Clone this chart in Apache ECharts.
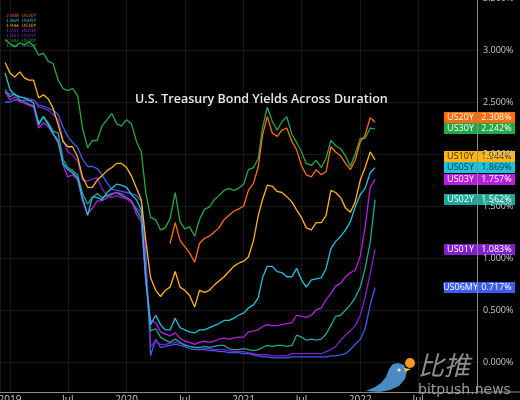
<!DOCTYPE html>
<html>
<head>
<meta charset="utf-8">
<title>U.S. Treasury Bond Yields Across Duration</title>
<script src="https://cdn.jsdelivr.net/npm/echarts@6.0.0/dist/echarts.min.js"></script>
<style>
html, body { margin: 0; padding: 0; background: #000; }
#chart { width: 520px; height: 400px; }
</style>
</head>
<body>
<div id="chart"></div>
<script>
// half-monthly readings (percent)
var dates = ['2018-12-17',
    '2019-01-01', '2019-01-16', '2019-02-01', '2019-02-16', '2019-03-01', '2019-03-16', '2019-04-01', '2019-04-16',
    '2019-05-01', '2019-05-16', '2019-06-01', '2019-06-16', '2019-07-01', '2019-07-16', '2019-08-01', '2019-08-16',
    '2019-09-01', '2019-09-16', '2019-10-01', '2019-10-16', '2019-11-01', '2019-11-16', '2019-12-01', '2019-12-16',
    '2020-01-01', '2020-01-16', '2020-02-01', '2020-02-16', '2020-03-01', '2020-03-16', '2020-04-01', '2020-04-16',
    '2020-05-01', '2020-05-16', '2020-06-01', '2020-06-16', '2020-07-01', '2020-07-16', '2020-08-01', '2020-08-16',
    '2020-09-01', '2020-09-16', '2020-10-01', '2020-10-16', '2020-11-01', '2020-11-16', '2020-12-01', '2020-12-16',
    '2021-01-01', '2021-01-16', '2021-02-01', '2021-02-16', '2021-03-01', '2021-03-16', '2021-04-01', '2021-04-16',
    '2021-05-01', '2021-05-16', '2021-06-01', '2021-06-16', '2021-07-01', '2021-07-16', '2021-08-01', '2021-08-16',
    '2021-09-01', '2021-09-16', '2021-10-01', '2021-10-16', '2021-11-01', '2021-11-16', '2021-12-01', '2021-12-16',
    '2022-01-01', '2022-01-16', '2022-02-01', '2022-02-16'];

var us30y = [3.10, 3.06, 3.03, 3.07, 3.05, 3.08, 3.04, 2.95, 2.97, 2.89,
    2.87, 2.71, 2.63, 2.61, 2.63, 2.56, 2.25, 2.06, 2.13, 2.13,
    2.27, 2.33, 2.39, 2.29, 2.27, 2.33, 2.29, 2.12, 2.02, 1.63,
    1.39, 1.37, 1.27, 1.29, 1.38, 1.63, 1.35, 1.28, 1.30, 1.21,
    1.37, 1.47, 1.49, 1.56, 1.60, 1.65, 1.67, 1.65, 1.67, 1.71,
    1.85, 1.87, 1.96, 2.25, 2.45, 2.31, 2.23, 2.31, 2.36, 2.19,
    2.11, 2.02, 1.91, 1.89, 1.94, 1.87, 1.96, 2.13, 2.08, 2.05,
    1.98, 1.88, 2.00, 2.15, 2.15, 2.25, 2.242];

var us20y = [null, null, null, null, null, null, null, null, null, null,
    null, null, null, null, null, null, null, null, null, null,
    null, null, null, null, null, null, null, null, null, null,
    null, null, null, null, 1.14, 1.34, 1.17, 1.11, 1.05, 0.96,
    1.14, 1.19, 1.21, 1.25, 1.29, 1.37, 1.41, 1.45, 1.47, 1.50,
    1.65, 1.72, 1.88, 2.18, 2.36, 2.20, 2.17, 2.23, 2.25, 2.12,
    2.04, 1.89, 1.80, 1.78, 1.85, 1.80, 1.83, 2.07, 2.02, 1.98,
    1.91, 1.85, 1.94, 2.12, 2.18, 2.35, 2.308];

var us10y = [2.88, 2.78, 2.74, 2.79, 2.73, 2.71, 2.71, 2.54, 2.57, 2.53,
    2.44, 2.28, 2.12, 2.07, 2.07, 1.97, 1.78, 1.68, 1.68, 1.75,
    1.79, 1.84, 1.87, 1.91, 1.91, 1.87, 1.79, 1.67, 1.56, 1.17,
    0.81, 0.69, 0.63, 0.69, 0.72, 0.87, 0.72, 0.69, 0.64, 0.53,
    0.69, 0.67, 0.69, 0.74, 0.78, 0.82, 0.87, 0.92, 0.95, 0.97,
    1.01, 1.17, 1.41, 1.56, 1.70, 1.69, 1.64, 1.63, 1.59, 1.54,
    1.46, 1.39, 1.29, 1.27, 1.34, 1.34, 1.41, 1.65, 1.63, 1.58,
    1.48, 1.44, 1.54, 1.75, 1.87, 2.02, 1.944];

var us05y = [2.78, 2.62, 2.57, 2.55, 2.54, 2.52, 2.49, 2.28, 2.36, 2.28,
    2.20, 2.11, 1.91, 1.85, 1.82, 1.77, 1.58, 1.41, 1.59, 1.58,
    1.56, 1.63, 1.67, 1.71, 1.70, 1.68, 1.61, 1.56, 1.46, 0.79,
    0.36, 0.45, 0.36, 0.31, 0.31, 0.42, 0.33, 0.31, 0.29, 0.28,
    0.31, 0.31, 0.33, 0.35, 0.37, 0.40, 0.40, 0.42, 0.45, 0.47,
    0.52, 0.55, 0.62, 0.81, 0.92, 0.92, 0.87, 0.86, 0.82, 0.82,
    0.90, 0.79, 0.72, 0.79, 0.80, 0.81, 0.90, 1.09, 1.16, 1.21,
    1.27, 1.35, 1.49, 1.61, 1.67, 1.82, 1.869];

var us03y = [2.60, 2.52, 2.55, 2.50, 2.49, 2.47, 2.45, 2.25, 2.30, 2.26,
    2.19, 2.14, 1.90, 1.78, 1.80, 1.75, 1.55, 1.42, 1.48, 1.55,
    1.55, 1.58, 1.61, 1.63, 1.62, 1.58, 1.55, 1.42, 1.35, 0.78,
    0.40, 0.38, 0.29, 0.27, 0.25, 0.28, 0.23, 0.20, 0.19, 0.17,
    0.19, 0.20, 0.19, 0.20, 0.22, 0.23, 0.22, 0.23, 0.24, 0.24,
    0.29, 0.30, 0.31, 0.34, 0.36, 0.35, 0.35, 0.36, 0.37, 0.38,
    0.45, 0.44, 0.43, 0.45, 0.50, 0.52, 0.60, 0.66, 0.73, 0.76,
    0.82, 0.86, 0.88, 1.02, 1.30, 1.68, 1.757];

var us02y = [2.62, 2.55, 2.58, 2.52, 2.50, 2.48, 2.46, 2.30, 2.36, 2.30,
    2.22, 2.20, 1.95, 1.87, 1.84, 1.80, 1.62, 1.52, 1.58, 1.62,
    1.58, 1.60, 1.62, 1.63, 1.60, 1.58, 1.55, 1.46, 1.38, 0.80,
    0.30, 0.32, 0.24, 0.21, 0.19, 0.22, 0.19, 0.16, 0.15, 0.14,
    0.14, 0.15, 0.14, 0.15, 0.16, 0.16, 0.13, 0.12, 0.12, 0.13,
    0.12, 0.11, 0.12, 0.14, 0.16, 0.15, 0.16, 0.16, 0.15, 0.16,
    0.26, 0.24, 0.21, 0.22, 0.21, 0.22, 0.27, 0.35, 0.44, 0.45,
    0.50, 0.55, 0.62, 0.72, 0.90, 1.15, 1.562];

var us01y = [2.58, 2.58, 2.57, 2.55, 2.54, 2.53, 2.52, 2.45, 2.44, 2.42,
    2.38, 2.33, 2.14, 2.02, 1.99, 1.93, 1.75, 1.74, 1.76, 1.77,
    1.67, 1.60, 1.58, 1.60, 1.58, 1.57, 1.53, 1.48, 1.44, 0.95,
    0.15, 0.20, 0.17, 0.17, 0.18, 0.19, 0.18, 0.17, 0.15, 0.14,
    0.14, 0.13, 0.13, 0.12, 0.12, 0.12, 0.11, 0.10, 0.10, 0.10,
    0.09, 0.08, 0.07, 0.07, 0.07, 0.06, 0.06, 0.06, 0.06, 0.08,
    0.08, 0.08, 0.08, 0.08, 0.08, 0.08, 0.10, 0.12, 0.15, 0.21,
    0.26, 0.30, 0.35, 0.45, 0.62, 0.85, 1.083];

var us06my = [2.50, 2.50, 2.52, 2.51, 2.52, 2.51, 2.52, 2.47, 2.46, 2.44,
    2.42, 2.38, 2.26, 2.17, 2.11, 2.06, 1.95, 1.88, 1.88, 1.86,
    1.80, 1.72, 1.66, 1.65, 1.64, 1.63, 1.62, 1.60, 1.55, 1.05,
    0.06, 0.22, 0.14, 0.15, 0.16, 0.17, 0.16, 0.15, 0.13, 0.12,
    0.12, 0.12, 0.11, 0.11, 0.10, 0.10, 0.09, 0.09, 0.09, 0.08,
    0.08, 0.07, 0.06, 0.05, 0.05, 0.04, 0.04, 0.04, 0.04, 0.05,
    0.05, 0.05, 0.05, 0.05, 0.05, 0.05, 0.05, 0.06, 0.06, 0.07,
    0.08, 0.12, 0.17, 0.22, 0.32, 0.55, 0.717];

var names = ['US06MY', 'US01Y', 'US02Y', 'US03Y', 'US05Y', 'US10Y', 'US30Y', 'US20Y'];
var values = [us06my, us01y, us02y, us03y, us05y, us10y, us30y, us20y];
// order of the tiny legend rows, top left
var legendOrder = ['US20Y', 'US05Y', 'US10Y', 'US03Y', 'US01Y', 'US30Y', 'US02Y'];

// styling
var colors = {
    US20Y: '#ff6d0a', US30Y: '#22a846', US10Y: '#ffb50f', US05Y: '#1fc2dc',
    US03Y: '#b61ee0', US02Y: '#1ba898', US01Y: '#7f22cc', US06MY: '#3c5cf2'
};
var boxText = {
    US20Y: '#ffffff', US30Y: '#ffffff', US10Y: '#3a2a00', US05Y: '#06323a',
    US03Y: '#ffffff', US02Y: '#ffffff', US01Y: '#ffffff', US06MY: '#ffffff'
};
var monthNames = ['Jan', 'Feb', 'Mar', 'Apr', 'May', 'Jun', 'Jul', 'Aug', 'Sep', 'Oct', 'Nov', 'Dec'];

var chart = echarts.init(document.getElementById('chart'));

var series = names.map(function (n, k) {
    return {
        name: n,
        type: 'line',
        showSymbol: false,
        lineStyle: { width: 1.3, color: colors[n] },
        itemStyle: { color: colors[n] },
        data: dates.map(function (d, i) { return [d, values[k][i]]; })
    };
});

chart.setOption({
    backgroundColor: '#000',
    animation: false,
    title: {
        text: 'U.S. Treasury Bond Yields Across Duration',
        left: 130, top: 88,
        textStyle: { color: '#e6e6e6', fontSize: 12.5, fontWeight: 600, fontFamily: 'Open Sans' }
    },
    grid: { left: 0, right: 43, top: -2, bottom: 8, outerBoundsMode: 'none', containLabel: false },
    xAxis: {
        type: 'time',
        min: '2018-12-01',
        max: '2023-01-01',
        splitNumber: 8,
        minInterval: 180 * 86400000,
        maxInterval: 185 * 86400000,
        axisLine: { onZero: false, lineStyle: { color: '#8a8a8a', width: 1 } },
        axisTick: { show: false },
        axisLabel: {
            color: '#c8c8c8', fontSize: 10, margin: 3, fontFamily: 'Open Sans',
            hideOverlap: false,
            formatter: function (v) {
                var d = new Date(v);
                return d.getMonth() === 0 ? String(d.getFullYear()) : monthNames[d.getMonth()];
            }
        },
        splitLine: { show: true, lineStyle: { color: '#181818', width: 1 } }
    },
    yAxis: {
        type: 'value',
        position: 'right',
        min: -0.288,
        max: 3.5,
        splitNumber: 7,
        axisLine: { show: true, lineStyle: { color: '#8a8a8a', width: 1 } },
        axisTick: { show: false },
        axisLabel: {
            color: '#c8c8c8', fontSize: 9, margin: 6, fontFamily: 'Open Sans',
            formatter: function (v) {
                if (Math.abs(v * 2 - Math.round(v * 2)) > 1e-6) return '';
                return v.toFixed(3) + '%';
            }
        },
        splitLine: { show: true, lineStyle: { color: '#181818', width: 1 } }
    },
    series: series
});

// price boxes on the right axis, stacked so they don't overlap
var axisX = 477;
var boxH = 11.5;
var lastOf = {};
var marks = names.map(function (n, k) {
    var v = values[k][values[k].length - 1];
    lastOf[n] = v;
    return { name: n, value: v, y: chart.convertToPixel({ yAxisIndex: 0 }, v) };
});
marks.sort(function (a, b) { return b.y - a.y; });
for (var i = 1; i < marks.length; i++) {
    if (marks[i].y > marks[i - 1].y - boxH) marks[i].y = marks[i - 1].y - boxH;
}
var elements = [];
marks.forEach(function (m) {
    elements.push({
        type: 'group',
        x: axisX - 33, y: Math.round(m.y - 5.5),
        children: [
            { type: 'rect', shape: { x: 0, y: 0, width: 71, height: 11 }, style: { fill: colors[m.name] } },
            { type: 'text', x: 16.5, y: 5.5, style: { text: m.name, fill: boxText[m.name], fontSize: 9, fontFamily: 'Open Sans', align: 'center', verticalAlign: 'middle' } },
            { type: 'text', x: 52.5, y: 5.5, style: { text: m.value.toFixed(3) + '%', fill: boxText[m.name], fontSize: 9, fontFamily: 'Open Sans', align: 'center', verticalAlign: 'middle' } }
        ]
    });
});

// tiny series readout rows, top left
legendOrder.forEach(function (n, r) {
    elements.push({
        type: 'text', x: 6, y: 13 + r * 5,
        style: { text: lastOf[n].toFixed(3) + '  ' + n, fill: colors[n], fontSize: 4.5, fontFamily: 'DejaVu Sans' }
    });
});

// x axis line continues under the price scale
elements.push({ type: 'line', shape: { x1: axisX, y1: 392, x2: 520, y2: 392 }, style: { stroke: '#8a8a8a', lineWidth: 1 } });

// watermark
elements.push({ type: 'polygon', z: 50, shape: { points: [[398, 363], [404, 365], [407, 371], [405, 379], [399, 386], [390, 390], [380, 392], [366, 391], [375, 387], [381, 383], [386, 377], [389, 369], [393, 364]] }, style: { fill: '#4a8cc0' } });
elements.push({ type: 'polygon', z: 51, shape: { points: [[404, 368], [411, 369], [405, 372]] }, style: { fill: '#f0c040' } });
elements.push({ type: 'circle', z: 51, shape: { cx: 399, cy: 370, r: 1.6 }, style: { fill: '#e6eef4' } });
elements.push({ type: 'circle', z: 51, shape: { cx: 410, cy: 363, r: 5 }, style: { fill: '#f39a1e' } });
elements.push({ type: 'text', z: 51, x: 418, y: 352, style: { text: '比推', fill: '#8d8d8d', fontSize: 26, fontStyle: 'italic', fontFamily: 'Noto Sans CJK SC' } });
elements.push({ type: 'text', z: 51, x: 418, y: 383, style: { text: 'bitpush.news', fill: '#9a9a9a', fontSize: 14, fontFamily: 'DejaVu Sans' } });

chart.setOption({ graphic: elements });
</script>
</body>
</html>
